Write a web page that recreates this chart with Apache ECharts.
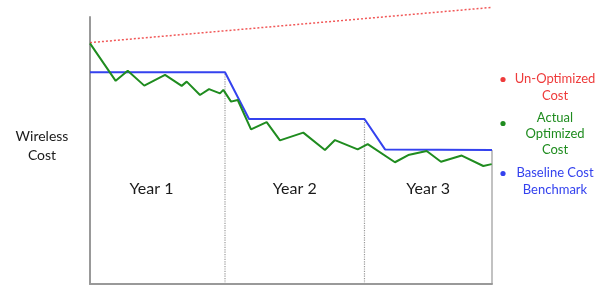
<!DOCTYPE html>
<html><head><meta charset="utf-8">
<script src="https://cdn.jsdelivr.net/npm/echarts@6/dist/echarts.min.js"></script>
<style>html,body{margin:0;padding:0;background:#fff}#c{width:600px;height:298px}</style>
</head><body><div id="c"></div>
<script>
// x: months since start; y: relative cost index
const yearLabels = ['Year 1', 'Year 2', 'Year 3'];
const yearBounds = [0, 12.09, 24.58, 36];
const seriesNames = ['Un-Optimized\nCost', 'Actual\nOptimized\nCost', 'Baseline Cost\nBenchmark'];
const unOptimized = [[0, 90.4], [36, 103.6]];
const actualOptimized = [
  [0, 90.1], [2.30, 76.1], [3.38, 79.9], [4.86, 74.3], [6.72, 78.3], [8.21, 74.2],
  [8.66, 75.8], [9.85, 70.8], [10.66, 73.0], [11.64, 71.4], [11.94, 72.7], [12.63, 68.3],
  [13.23, 68.9], [14.42, 57.9], [15.82, 60.6], [17.01, 53.8], [19.10, 56.7], [21.04, 50.2],
  [21.94, 53.9], [23.97, 50.4], [24.87, 52.4], [27.31, 45.6], [28.50, 48.3], [30.15, 49.8],
  [31.43, 45.8], [33.29, 48.1], [35.22, 44.2], [35.97, 44.9]
];
const baseline = [[0, 79.3], [12.09, 79.3], [14.24, 61.8], [24.58, 61.8], [26.42, 50.4], [36, 50.2]];
const dividerTops = [79.3, 61.8, 50.2];

const RED = '#ee3b3b', GREEN = '#1f8c1f', BLUE = '#3442ee';
const font = 'Lato, "Noto Sans", sans-serif';

const dividerSeries = [1, 2, 3].map((i, k) => ({
  type: 'line', silent: true, symbol: 'none', z: 1,
  data: [[yearBounds[i], 0], [yearBounds[i], dividerTops[k]]],
  lineStyle: { color: '#999', width: 1.2, type: i === 3 ? 'solid' : 'dotted' }
}));

const chart = echarts.init(document.getElementById('c'), null, { renderer: 'canvas' });
chart.setOption({
  animation: false,
  grid: { left: 90, right: 108, top: 17, bottom: 14 },
  xAxis: {
    type: 'value', min: 0, max: 36,
    axisLine: { show: true, lineStyle: { color: '#999', width: 2 } },
    axisTick: { show: false }, axisLabel: { show: false }, splitLine: { show: false }
  },
  yAxis: {
    type: 'value', min: 0, max: 100,
    axisLine: { show: true, lineStyle: { color: '#999', width: 2 } },
    axisTick: { show: false }, axisLabel: { show: false }, splitLine: { show: false }
  },
  series: [
    ...dividerSeries,
    {
      type: 'line', name: seriesNames[2], data: baseline, symbol: 'none', z: 3,
      lineStyle: { color: BLUE, width: 2 },
      markArea: {
        silent: true,
        itemStyle: { color: 'rgba(0,0,0,0)' },
        label: { show: true, position: 'inside', color: '#1a1a1a', fontFamily: font, fontSize: 16 },
        data: yearLabels.map((t, i) => [
          { name: t, xAxis: yearBounds[i], yAxis: 0, label: { offset: [i === 0 ? -6 : 0, 0] } },
          { xAxis: yearBounds[i + 1], yAxis: 71 }
        ])
      }
    },
    {
      type: 'line', name: seriesNames[1], data: actualOptimized, symbol: 'none', z: 4,
      lineStyle: { color: GREEN, width: 2 }
    },
    {
      type: 'line', name: seriesNames[0], data: unOptimized, symbol: 'none', z: 2, clip: false,
      lineStyle: { color: RED, width: 1.5, type: [2, 2], opacity: 0.85 }
    }
  ],
  graphic: [
    { type: 'text', x: 42, y: 127, style: { text: 'Wireless\nCost', fill: '#1a1a1a', font: '14px ' + font, align: 'center', lineHeight: 19 } },
    { type: 'circle', shape: { cx: 503, cy: 79.5, r: 2.6 }, style: { fill: RED } },
    { type: 'text', x: 555, y: 70, style: { text: seriesNames[0], fill: RED, font: '13px ' + font, align: 'center', lineHeight: 17.5 } },
    { type: 'circle', shape: { cx: 503, cy: 123.5, r: 2.6 }, style: { fill: GREEN } },
    { type: 'text', x: 555, y: 110, style: { text: seriesNames[1], fill: GREEN, font: '13px ' + font, align: 'center', lineHeight: 16 } },
    { type: 'circle', shape: { cx: 503, cy: 173.5, r: 2.6 }, style: { fill: BLUE } },
    { type: 'text', x: 555, y: 164, style: { text: seriesNames[2], fill: BLUE, font: '13px ' + font, align: 'center', lineHeight: 17.5 } }
  ]
});
</script></body></html>
